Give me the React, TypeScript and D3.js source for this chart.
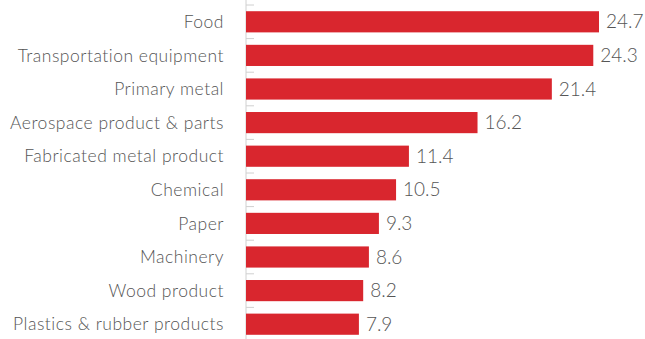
import React from "react";
import * as d3 from "d3";

const categories = [
  "Food",
  "Transportation equipment",
  "Primary metal",
  "Aerospace product & parts",
  "Fabricated metal product",
  "Chemical",
  "Paper",
  "Machinery",
  "Wood product",
  "Plastics & rubber products",
];
const values = [24.7, 24.3, 21.4, 16.2, 11.4, 10.5, 9.3, 8.6, 8.2, 7.9];

const W = 645;
const H = 339;

export default function App() {
  const y = d3.scaleBand<string>().domain(categories).range([5, 341]).paddingInner(0.37).paddingOuter(0.185);
  const x = d3.scaleLinear().domain([0, 24.7]).range([246, 599]);
  const step = y.step();
  const boundaries = categories.map((_, i) => 5 + i * step).filter((v) => v > 0);
  return (
    <svg width={W} height={H} style={{ position: "absolute", left: 0, top: 0 }}>
      <line x1={246} x2={246} y1={0} y2={H} stroke="#d0d0d0" strokeWidth={1} />
      {boundaries.map((b, i) => (
        <line key={i} x1={246} x2={254} y1={b} y2={b} stroke="#d0d0d0" strokeWidth={1} />
      ))}
      {categories.map((c, i) => (
        <g key={c}>
          <rect x={x(0)} y={y(c)!} width={x(values[i]) - x(0)} height={y.bandwidth()} fill="#d9262e" />
          <text
            x={224}
            y={y(c)! + y.bandwidth() / 2}
            dy="0.35em"
            textAnchor="end"
            fontFamily="Lato"
            fontWeight={300}
            fontSize={17.5}
            letterSpacing={0.5}
            fill="#555"
          >
            {c}
          </text>
          <text
            x={x(values[i]) + 7}
            y={y(c)! + y.bandwidth() / 2}
            dy="0.35em"
            fontFamily="Lato"
            fontWeight={300}
            fontSize={19}
            fill="#555"
          >
            {values[i]}
          </text>
        </g>
      ))}
    </svg>
  );
}
